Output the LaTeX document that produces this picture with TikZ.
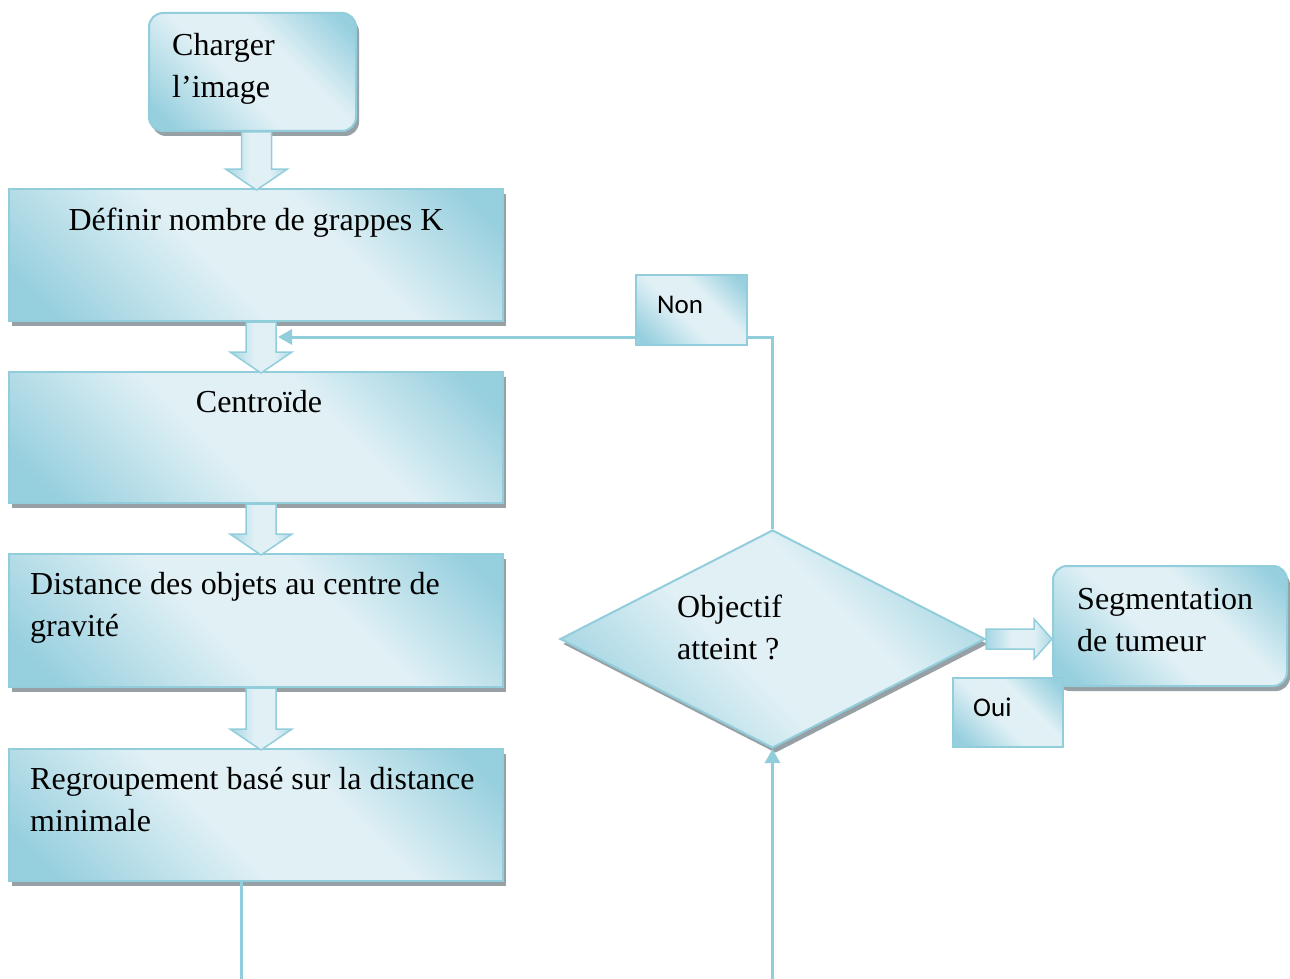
\documentclass[tikz,border=0pt]{standalone}
\usepackage{fontspec}
\setmainfont{Liberation Serif}
\newfontfamily\tagfont{Carlito}
\usetikzlibrary{shapes.geometric,shadows,calc,arrows.meta}

\definecolor{bborder}{RGB}{146,205,220}
\definecolor{bdark}{RGB}{150,207,222}
\definecolor{blight}{RGB}{224,240,245}
\definecolor{bshadow}{RGB}{150,160,165}

% dark -> light -> dark band, laid across the boxes diagonally
\pgfdeclarehorizontalshading{boxshade}{100bp}{%
  color(0bp)=(bdark); color(20bp)=(bdark); color(44bp)=(blight);
  color(61bp)=(blight); color(81bp)=(bdark); color(100bp)=(bdark)}

\tikzset{
  shadebox/.style={draw=bborder, line width=2pt, shade, shading=boxshade,
    shading angle=45, inner sep=0pt,
    drop shadow={shadow xshift=3pt, shadow yshift=-5pt, fill=bshadow, opacity=1}},
  tagbox/.style={draw=bborder, line width=2pt, shade, shading=boxshade,
    shading angle=45, inner sep=0pt, anchor=north west},
  serif/.style={font=\fontsize{32}{42}\selectfont, inner sep=0pt},
  tagtext/.style={font=\tagfont\fontsize{27}{32}\selectfont, inner sep=0pt, anchor=base west},
  link/.style={draw=bborder, line width=3pt},
  linktip/.style={-{Triangle[length=14pt,width=15pt]}},
  blk/.style={draw=bborder, line width=1.5pt, shade, shading=boxshade, shading angle=0},
}

% block arrow pointing down, from the bottom of #1 to the top of #2, shifted by #3
\newcommand\downblock[3]{%
  \path[blk] let \p1=($(#1.south)+(#3,0)$), \p2=(#2.north) in
    (\x1-15pt,\y1) -- (\x1+15pt,\y1) -- (\x1+15pt,\y2+19pt) -- (\x1+31pt,\y2+19pt)
    -- (\x1,\y2-2pt) -- (\x1-31pt,\y2+19pt) -- (\x1-15pt,\y2+19pt) -- cycle;}

\begin{document}
\begin{tikzpicture}[x=1pt,y=-1pt]
\useasboundingbox (0,0) rectangle (1290,979);

% process boxes
\node[shadebox, rounded corners=14pt, anchor=north west, minimum width=207pt, minimum height=118pt] (chg) at (148,12) {};
\node[shadebox, anchor=north west, minimum width=494pt, minimum height=132pt] (def) at (8,188) {};
\node[shadebox, anchor=north west, minimum width=494pt, minimum height=131pt] (cen) at (8,371) {};
\node[shadebox, anchor=north west, minimum width=494pt, minimum height=133pt] (dst) at (8,553) {};
\node[shadebox, anchor=north west, minimum width=494pt, minimum height=132pt] (reg) at (8,748) {};
\node[shadebox, diamond, minimum width=425pt, minimum height=218pt] (dia) at (772.5,639) {};
\node[shadebox, rounded corners=14pt, anchor=north west, minimum width=234pt, minimum height=120pt] (seg) at (1052,565) {};

% box texts
\node[serif, anchor=base west, text width=180pt, align=flush left] (chgt) at (172,56) {Charger\\l’image};
\node[serif, anchor=base] (deft) at (256,230) {Définir nombre de grappes K};
\node[serif, anchor=base] (cent) at (259,412) {Centroïde};
\node[serif, anchor=base west, text width=470pt, align=flush left] (dstt) at (30,594) {Distance des objets au centre de\\gravité};
\node[serif, anchor=base west, text width=470pt, align=flush left] (regt) at (30,789) {Regroupement basé sur la distance\\minimale};
\node[serif, anchor=base west, text width=200pt, align=flush left] (diat) at (677,617) {Objectif\\atteint ?};
\node[serif, anchor=base west, text width=210pt, align=flush left] (segt) at (1077,609) {Segmentation\\de tumeur};

% block arrows between the steps
\downblock{chg}{def}{4pt}
\downblock{def}{cen}{5pt}
\downblock{cen}{dst}{5pt}
\downblock{dst}{reg}{5pt}
\path[blk] let \p1=(dia.east), \p2=(seg.west) in
  (\x1,\y1+10pt) -- (\x2-18pt,\y1+10pt) -- (\x2-18pt,\y1+20pt) -- (\x2,\y1)
  -- (\x2-18pt,\y1-20pt) -- (\x2-18pt,\y1-10pt) -- (\x1,\y1-10pt) -- cycle;

% loop and open connectors
\coordinate (loopin) at (278,337);
\coordinate (bottomL) at (241,979);
\coordinate (bottomR) at (772.5,979);
\draw[link, linktip] (dia.north) |- (loopin);
\draw[link] (reg.south -| bottomL) -- (bottomL);
\draw[link, linktip] (bottomR) -- (dia.south);

% branch labels
\node[tagbox, minimum width=111pt, minimum height=70pt] (non) at (635,274) {};
\node[tagtext] (nont) at (657,313) {Non};
\node[tagbox, minimum width=110pt, minimum height=69pt] (oui) at (952,677) {};
\node[tagtext] (ouit) at (973,716) {Oui};
\end{tikzpicture}
\end{document}
